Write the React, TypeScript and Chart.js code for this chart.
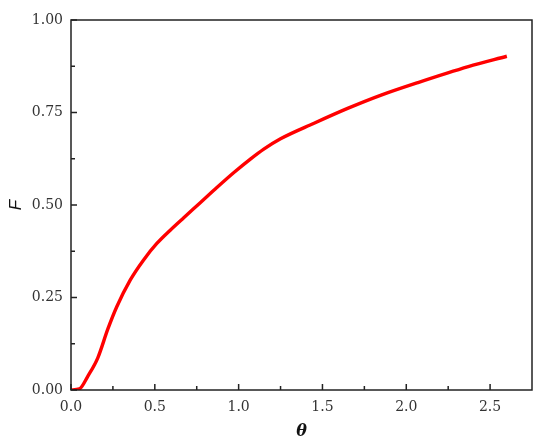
import React, { useEffect, useRef } from "react";
import { Chart, registerables } from "chart.js";

Chart.register(...registerables);

const thetaValues = [0, 0.05, 0.1, 0.16, 0.22, 0.273, 0.353, 0.432, 0.512, 0.592, 0.671, 0.771, 0.87, 0.97, 1.07, 1.15, 1.25, 1.45, 1.65, 1.85, 2.07, 2.37, 2.6];
const fValues = [0, 0.003, 0.037, 0.087, 0.165, 0.225, 0.297, 0.351, 0.396, 0.432, 0.465, 0.506, 0.547, 0.587, 0.624, 0.651, 0.679, 0.721, 0.761, 0.797, 0.831, 0.874, 0.902];
const xTickValues = [0, 0.5, 1.0, 1.5, 2.0, 2.5];
const xMinorValues = [0.25, 0.75, 1.25, 1.75, 2.25];
const yTickValues = [0, 0.25, 0.5, 0.75, 1.0];
const yMinorValues = [0.125, 0.375, 0.625, 0.875];

const framePlugin = {
  id: "framePlugin",
  afterDraw(chart: any) {
    const { ctx, chartArea } = chart;
    const xs = chart.scales.x;
    const ys = chart.scales.y;
    ctx.save();
    ctx.strokeStyle = "#222";
    ctx.lineWidth = 1.5;
    ctx.strokeRect(chartArea.left, chartArea.top, chartArea.right - chartArea.left, chartArea.bottom - chartArea.top);
    ctx.beginPath();
    xTickValues.forEach((v) => {
      const px = xs.getPixelForValue(v);
      ctx.moveTo(px, chartArea.bottom);
      ctx.lineTo(px, chartArea.bottom - 6);
    });
    xMinorValues.forEach((v) => {
      const px = xs.getPixelForValue(v);
      ctx.moveTo(px, chartArea.bottom);
      ctx.lineTo(px, chartArea.bottom - 4);
    });
    yTickValues.forEach((v) => {
      const py = ys.getPixelForValue(v);
      ctx.moveTo(chartArea.left, py);
      ctx.lineTo(chartArea.left + 6, py);
    });
    yMinorValues.forEach((v) => {
      const py = ys.getPixelForValue(v);
      ctx.moveTo(chartArea.left, py);
      ctx.lineTo(chartArea.left + 4, py);
    });
    ctx.stroke();
    ctx.restore();
  },
};

export default function App() {
  const ref = useRef<HTMLCanvasElement | null>(null);
  useEffect(() => {
    document.body.style.margin = "0";
    const canvas = ref.current;
    if (!canvas) return;
    const chart = new Chart(canvas, {
      type: "line",
      data: {
        datasets: [
          {
            data: thetaValues.map((t, i) => ({ x: t, y: fValues[i] })),
            borderColor: "#ff0000",
            borderWidth: 3.4,
            pointRadius: 0,
            cubicInterpolationMode: "monotone",
            fill: false,
          },
        ],
      },
      options: {
        animation: false,
        responsive: false,
        maintainAspectRatio: false,
        layout: { padding: { left: 0, right: 18, top: 20, bottom: 0 } },
        plugins: { legend: { display: false }, tooltip: { enabled: false } },
        scales: {
          x: {
            type: "linear",
            min: 0,
            max: 2.75,
            grid: { display: false, drawTicks: false },
            border: { display: false },
            afterBuildTicks: (s: any) => {
              s.ticks = xTickValues.map((v) => ({ value: v }));
            },
            afterFit: (s: any) => {
              s.height = 55;
            },
            ticks: {
              padding: 9,
              color: "#333",
              font: { family: "DejaVu Serif", size: 14 },
              callback: (v: any) => Number(v).toFixed(1),
              maxRotation: 0,
            },
            title: {
              display: true,
              text: "θ",
              color: "#111",
              font: { family: "DejaVu Serif", size: 16, style: "italic", weight: "bold" },
              padding: { top: 0, bottom: 4 },
            },
          },
          y: {
            type: "linear",
            min: 0,
            max: 1,
            grid: { display: false, drawTicks: false },
            border: { display: false },
            afterBuildTicks: (s: any) => {
              s.ticks = yTickValues.map((v) => ({ value: v }));
            },
            afterFit: (s: any) => {
              s.width = 71;
            },
            ticks: {
              padding: 8,
              color: "#333",
              font: { family: "DejaVu Serif", size: 14 },
              callback: (v: any) => Number(v).toFixed(2),
            },
            title: {
              display: true,
              text: "F",
              color: "#111",
              font: { family: "Liberation Sans", size: 17, style: "italic" },
              padding: { top: 6, bottom: 0 },
            },
          },
        },
      },
      plugins: [framePlugin],
    } as any);
    return () => chart.destroy();
  }, []);
  return (
    <div style={{ width: 550, height: 445 }}>
      <canvas ref={ref} width={550} height={445} style={{ display: "block", width: 550, height: 445 }} />
    </div>
  );
}
